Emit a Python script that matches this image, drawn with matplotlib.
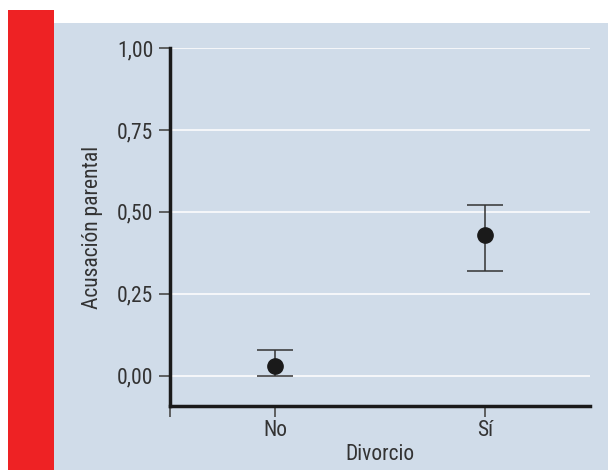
import matplotlib
matplotlib.use("Agg")
import matplotlib.pyplot as plt
from matplotlib.patches import Rectangle

plt.rcParams['font.family'] = ['Roboto Condensed', 'Liberation Sans Narrow', 'Roboto', 'DejaVu Sans']

# Data
groups = ['No', 'Sí']
means = [0.03, 0.43]
ci_low = [0.00, 0.32]
ci_high = [0.08, 0.52]
y_ticks = [0.00, 0.25, 0.50, 0.75, 1.00]
y_labels = ['0,00', '0,25', '0,50', '0,75', '1,00']

W, H = 608, 470
fig = plt.figure(figsize=(W / 100, H / 100), dpi=100)

# Background panels
fig.patches.append(Rectangle((8 / W, 0), 46 / W, 1 - 10 / H, transform=fig.transFigure,
                             facecolor='#EE2224', edgecolor='none', zorder=-10))
fig.patches.append(Rectangle((54 / W, 0), 1 - 54 / W, 1 - 23 / H, transform=fig.transFigure,
                             facecolor='#D0DCE9', edgecolor='none', zorder=-10))

ax = fig.add_axes([170 / W, 1 - 406 / H, 420 / W, 358 / H])
ax.patch.set_visible(False)

xs = [1, 2]
yerr = [[m - l for m, l in zip(means, ci_low)], [h - m for m, h in zip(means, ci_high)]]
ax.errorbar(xs, means, yerr=yerr, fmt='o', color='#1a1a1a', markersize=11,
            ecolor='#333333', elinewidth=1.1, capsize=13, capthick=1.1, zorder=3)

for y in y_ticks:
    ax.axhline(y, color='white', linewidth=1.1, zorder=1)

ax.set_xlim(0.5, 2.5)
ax.set_ylim(-0.092, 1.0)
ax.set_xticks([0.5, 1, 2])
ax.set_xticklabels(['', 'No', 'Sí'])
ax.set_yticks(y_ticks)
ax.set_yticklabels(y_labels)

for s in ['top', 'right']:
    ax.spines[s].set_visible(False)
for s in ['left', 'bottom']:
    ax.spines[s].set_linewidth(2.5)
    ax.spines[s].set_color('#1a1a1a')

ax.tick_params(axis='y', direction='out', length=8, width=1.3, color='#555555',
               labelsize=15.5, labelcolor='#333333', pad=4)
ax.tick_params(axis='x', direction='out', length=8, width=1.3, color='#555555',
               labelsize=15.5, labelcolor='#333333', pad=2)

ax.set_xlabel('Divorcio', fontsize=15.5, color='#333333', labelpad=2)
ax.set_ylabel('Acusación parental', fontsize=15.5, color='#333333', labelpad=10)

fig.savefig('out.png', dpi=100)
